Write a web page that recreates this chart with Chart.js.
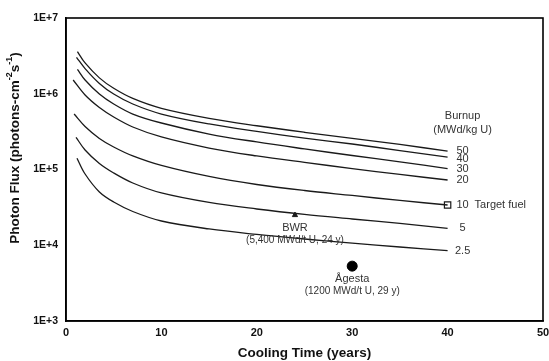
<!DOCTYPE html>
<html>
<head>
<meta charset="utf-8">
<script src="https://cdn.jsdelivr.net/npm/chart.js@4/dist/chart.umd.min.js"></script>
<style>
  body { margin: 0; background: #fff; }
  #wrap { width: 549px; height: 361px; }
</style>
</head>
<body>
<div id="wrap"><canvas id="myChart"></canvas></div>
<script>
// cooling times (years), first point of each curve differs a little
const years = [2, 3.5, 5, 7, 10, 15, 20, 25, 30, 35, 40]
const startYears = [1.2, 1.1, 1.2, 0.75, 0.85, 1.05, 1.15]

// burnup labels (MWd/kg U)
const burnups = ['50', '40', '30', '20', '10', '5', '2.5']

// photon flux, photons/cm2/s  (first value belongs to startYears)
const flux50  = [3.6e6, 2.55e6, 1.62e6, 1.18e6, 8.68e5, 6.43e5, 4.74e5, 3.78e5, 3.1e5, 2.58e5, 2.14e5, 1.75e5]
const flux40  = [3.03e6, 2.15e6, 1.37e6, 9.92e5, 7.32e5, 5.4e5, 3.99e5, 3.18e5, 2.6e5, 2.17e5, 1.78e5, 1.46e5]
const flux30  = [2.1e6, 1.52e6, 9.92e5, 7.32e5, 5.4e5, 4.11e5, 2.94e5, 2.31e5, 1.87e5, 1.53e5, 1.26e5, 1.03e5]
const flux20  = [1.52e6, 9.63e5, 6.58e5, 4.93e5, 3.64e5, 2.69e5, 1.92e5, 1.51e5, 1.24e5, 1.03e5, 8.6e4, 7.27e4]
const flux10  = [5.4e5, 3.7e5, 2.57e5, 1.98e5, 1.51e5, 1.13e5, 8.09e4, 6.34e4, 5.28e4, 4.54e4, 3.9e4, 3.4e4]
const flux5   = [2.66e5, 1.81e5, 1.2e5, 8.99e4, 6.63e4, 4.9e4, 3.67e4, 3.01e4, 2.55e4, 2.22e4, 1.94e4, 1.67e4]
const flux2_5 = [1.41e5, 8.72e4, 5.05e4, 3.72e4, 2.79e4, 2.09e4, 1.64e4, 1.39e4, 1.21e4, 1.07e4, 9.48e3, 8.5e3]
const allFlux = [flux50, flux40, flux30, flux20, flux10, flux5, flux2_5]

// measured points
const targetFuel = {x: 40, y: 3.4e4}
const bwr = {x: 24, y: 2.5e4}
const agesta = {x: 30, y: 5.3e3}

const yTicks = [1e3, 1e4, 1e5, 1e6, 1e7]
const yTickLabels = ['1E+3', '1E+4', '1E+5', '1E+6', '1E+7']

const ink = '#1a1a1a'
const sans = '"Liberation Sans", Arial, sans-serif'

const curveSets = allFlux.map((vals, i) => ({
  label: burnups[i],
  data: vals.map((v, j) => ({x: j === 0 ? startYears[i] : years[j - 1], y: v})),
  showLine: true,
  borderColor: ink,
  borderWidth: 1.3,
  pointRadius: 0,
  tension: 0.35,
  fill: false
}))

const markerSets = [
  {label: 'Target fuel', data: [targetFuel], pointStyle: 'rect', pointRadius: 4.5,
   backgroundColor: '#fff', borderColor: ink, borderWidth: 1.2, showLine: false},
  {label: 'BWR', data: [bwr], pointStyle: 'triangle', pointRadius: 3,
   backgroundColor: ink, borderColor: ink, borderWidth: 1, showLine: false},
  {label: 'Agesta', data: [agesta], pointStyle: 'circle', pointRadius: 5,
   backgroundColor: '#000', borderColor: '#000', borderWidth: 1, showLine: false}
]

// y title with real superscripts, drawn rotated
function drawYTitle(c, cx, cy) {
  const parts = [
    ['Photon Flux (photons-cm', false], ['-2', true], ['s', false], ['-1', true], [')', false]
  ]
  const big = 'bold 13.5px ' + sans, small = 'bold 9px ' + sans
  let total = 0
  parts.forEach(([t, sup]) => { c.font = sup ? small : big; total += c.measureText(t).width })
  c.save()
  c.translate(cx, cy)
  c.rotate(-Math.PI / 2)
  c.fillStyle = '#111'
  c.textAlign = 'left'
  c.textBaseline = 'middle'
  let x = -total / 2
  parts.forEach(([t, sup]) => {
    c.font = sup ? small : big
    c.fillText(t, x, sup ? -5 : 0)
    x += c.measureText(t).width
  })
  c.restore()
}

const annotate = {
  id: 'annotate',
  afterDraw(chart) {
    const c = chart.ctx
    const a = chart.chartArea
    const xs = chart.scales.x, ys = chart.scales.y
    c.save()
    // frame
    c.strokeStyle = '#000'
    c.lineWidth = 1.6
    c.strokeRect(a.left, a.top, a.right - a.left, a.bottom - a.top)

    drawYTitle(c, 15, 148)

    c.fillStyle = '#333'
    c.textAlign = 'center'
    c.textBaseline = 'middle'
    c.font = '11px ' + sans
    const lx = xs.getPixelForValue(40) + 15
    const nudge = [0, 2, 0, 0, 0, 0, 0]
    allFlux.forEach((vals, i) => {
      const py = ys.getPixelForValue(vals[vals.length - 1]) + nudge[i]
      c.fillText(burnups[i], lx, py)
    })
    c.textAlign = 'left'
    c.fillText('Target fuel', lx + 12, ys.getPixelForValue(targetFuel.y))
    c.textAlign = 'center'
    c.fillText('Burnup', lx, a.top + 98)
    c.fillText('(MWd/kg U)', lx, a.top + 112)

    const bx = xs.getPixelForValue(bwr.x), by = ys.getPixelForValue(bwr.y)
    c.fillText('BWR', bx, by + 13)
    c.font = '10px ' + sans
    c.fillText('(5,400 MWd/t U, 24 y)', bx, by + 25)

    const gx = xs.getPixelForValue(agesta.x), gy = ys.getPixelForValue(agesta.y)
    c.font = '11px ' + sans
    c.fillText('Ågesta', gx, gy + 13)
    c.font = '10px ' + sans
    c.fillText('(1200 MWd/t U, 29 y)', gx, gy + 25)
    c.restore()
  }
}

const ctx = document.getElementById('myChart')

var myChart = new Chart(ctx, {
  type: 'scatter',
  data: {datasets: [...curveSets, ...markerSets]},
  options: {
    responsive: true,
    maintainAspectRatio: false,
    animation: false,
    layout: {padding: {top: 18, right: 6, left: 0, bottom: 0}},
    plugins: {legend: {display: false}, tooltip: {enabled: false}},
    scales: {
      x: {
        type: 'linear', min: 0, max: 50,
        grid: {display: false, drawTicks: false},
        border: {display: true, color: '#000', width: 1.6},
        ticks: {stepSize: 10, color: '#111', padding: 5,
          font: {family: sans, size: 11, weight: 'bold'}},
        title: {display: true, text: 'Cooling Time (years)', color: '#111',
          padding: {top: 2, bottom: 0},
          font: {family: sans, size: 13.5, weight: 'bold'}},
        afterFit(scale) { scale.height = 40; scale.paddingLeft = 0; scale.paddingRight = 0 }
      },
      y: {
        type: 'logarithmic', min: 1e3, max: 1e7,
        grid: {display: false, drawTicks: false},
        border: {display: true, color: '#000', width: 1.6},
        afterBuildTicks(scale) { scale.ticks = yTicks.map(v => ({value: v})) },
        ticks: {color: '#111', padding: 8,
          callback: (v) => yTickLabels[yTicks.indexOf(v)],
          font: {family: sans, size: 10.5, weight: 'bold'}},
        title: {display: false},
        afterFit(scale) { scale.width = 66; scale.paddingTop = 0; scale.paddingBottom = 0 }
      }
    }
  },
  plugins: [annotate]
})
</script>
</body>
</html>
